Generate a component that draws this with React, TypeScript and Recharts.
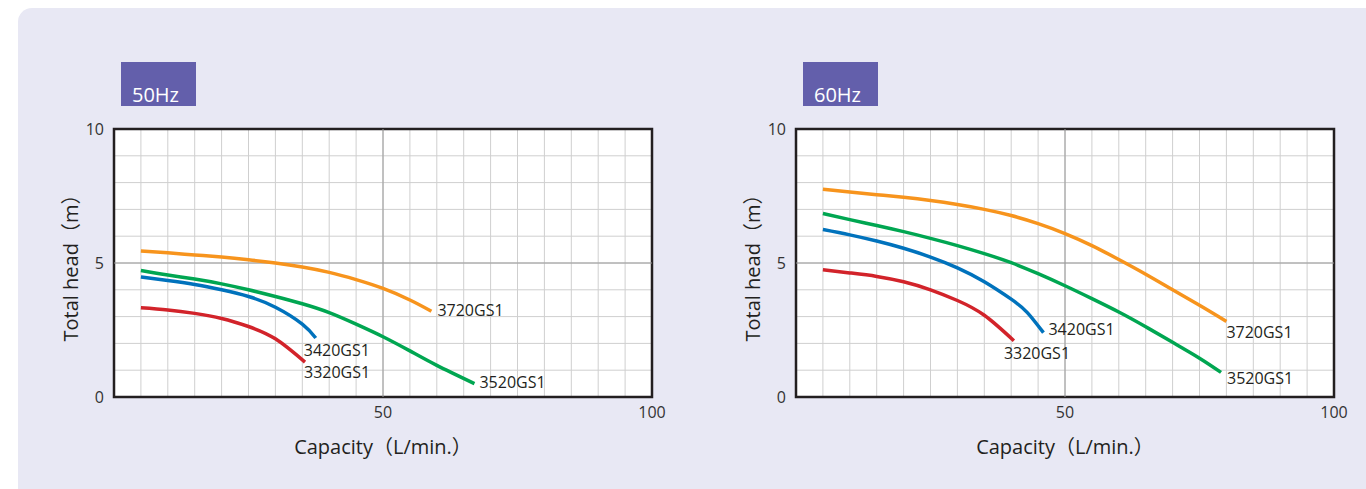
import { CartesianGrid, Label, Line, LineChart, ReferenceArea, ReferenceLine, XAxis, YAxis } from "recharts"

// capacity (L/min.) and total head (m)
const q50_3720 = [5, 10, 15, 20, 25, 30, 35, 40, 45, 50, 55, 59]
const h50_3720 = [5.45, 5.38, 5.3, 5.22, 5.12, 5.0, 4.85, 4.65, 4.38, 4.05, 3.62, 3.2]
const q50_3520 = [5, 10, 15, 20, 25, 30, 35, 40, 45, 50, 55, 60, 67]
const h50_3520 = [4.72, 4.55, 4.4, 4.22, 4.0, 3.75, 3.48, 3.15, 2.72, 2.25, 1.72, 1.18, 0.5]
const q50_3420 = [5, 10, 15, 20, 25, 30, 35, 37.5]
const h50_3420 = [4.48, 4.35, 4.2, 4.0, 3.75, 3.35, 2.72, 2.2]
const q50_3320 = [5, 10, 15, 20, 25, 30, 35.5]
const h50_3320 = [3.33, 3.25, 3.12, 2.93, 2.63, 2.17, 1.3]

const q60_3720 = [5, 10, 15, 20, 25, 30, 35, 40, 45, 50, 55, 60, 65, 70, 75, 80]
const h60_3720 = [7.75, 7.65, 7.55, 7.45, 7.33, 7.18, 7.0, 6.77, 6.47, 6.1, 5.65, 5.13, 4.58, 4.0, 3.42, 2.82]
const q60_3520 = [5, 10, 15, 20, 25, 30, 35, 40, 45, 50, 55, 60, 65, 70, 75, 79]
const h60_3520 = [6.85, 6.62, 6.4, 6.17, 5.92, 5.65, 5.35, 5.01, 4.6, 4.15, 3.67, 3.17, 2.62, 2.04, 1.45, 0.92]
const q60_3420 = [5, 10, 15, 20, 25, 30, 35, 40, 43, 46]
const h60_3420 = [6.25, 6.05, 5.82, 5.55, 5.22, 4.82, 4.3, 3.65, 3.15, 2.4]
const q60_3320 = [5, 10, 15, 20, 25, 30, 35, 40.5]
const h60_3320 = [4.75, 4.63, 4.5, 4.3, 4.0, 3.6, 3.05, 2.1]

const capacityTicks = [0, 5, 10, 15, 20, 25, 30, 35, 40, 45, 50, 55, 60, 65, 70, 75, 80, 85, 90, 95, 100]
const headTicks = [0, 1, 2, 3, 4, 5, 6, 7, 8, 9, 10]

const zip = (q: number[], h: number[]) => q.map((v, i) => ({ q: v, h: h[i] }))

interface Curve {
  name: string
  color: string
  data: { q: number; h: number }[]
  dx: number
  dy: number
}

const curves50: Curve[] = [
  { name: "3720GS1", color: "#f7941d", data: zip(q50_3720, h50_3720), dx: 6, dy: 5 },
  { name: "3520GS1", color: "#00a651", data: zip(q50_3520, h50_3520), dx: 5, dy: 4 },
  { name: "3420GS1", color: "#0072bc", data: zip(q50_3420, h50_3420), dx: -12, dy: 18 },
  { name: "3320GS1", color: "#d2232a", data: zip(q50_3320, h50_3320), dx: -1, dy: 16 },
]

const curves60: Curve[] = [
  { name: "3720GS1", color: "#f7941d", data: zip(q60_3720, h60_3720), dx: 0, dy: 17 },
  { name: "3520GS1", color: "#00a651", data: zip(q60_3520, h60_3520), dx: 6, dy: 12 },
  { name: "3420GS1", color: "#0072bc", data: zip(q60_3420, h60_3420), dx: 5, dy: 2 },
  { name: "3320GS1", color: "#d2232a", data: zip(q60_3320, h60_3320), dx: -10, dy: 18 },
]

const font = "'Open Sans', 'Noto Sans CJK JP', sans-serif"

function PumpChart({ curves, left, plotLeft, title }: { curves: Curve[]; left: number; plotLeft: number; title: string }) {
  return (
    <div style={{ position: "absolute", left, top: 0, width: 683, height: 489 }}>
      <div
        style={{
          position: "absolute",
          left: plotLeft + 7,
          top: 62,
          width: 75,
          height: 44,
          background: "#635fab",
          color: "#fff",
          fontFamily: font,
          fontSize: 20,
          lineHeight: 1,
        }}
      >
        <span style={{ position: "absolute", left: 11, top: 23 }}>{title}</span>
      </div>
      <LineChart width={683} height={489} margin={{ top: 129, right: 683 - plotLeft - 538, bottom: 30, left: plotLeft - 86 }}>
        <CartesianGrid stroke="#cfcfcf" fill="#fff" />
        <XAxis
          type="number"
          dataKey="q"
          domain={[0, 100]}
          ticks={capacityTicks}
          interval={0}
          tickFormatter={(v) => (v === 50 || v === 100 ? String(v) : "")}
          axisLine={false}
          tickLine={false}
          tickSize={0}
          tickMargin={10}
          height={62}
          tick={{ fill: "#333", fontSize: 16, fontFamily: font }}
        >
          <Label value="Capacity（L/min.）" position="insideBottom" offset={5} fill="#231f20" fontSize={20} fontFamily={font} />
        </XAxis>
        <YAxis
          type="number"
          domain={[0, 10]}
          ticks={headTicks}
          interval={0}
          tickFormatter={(v) => (v % 5 === 0 ? String(v) : "")}
          axisLine={false}
          tickLine={false}
          tickSize={0}
          tickMargin={10}
          width={86}
          tick={{ fill: "#333", fontSize: 16, fontFamily: font }}
        >
          <Label value="Total head（m）" angle={-90} position="center" fill="#231f20" fontSize={20} fontFamily={font} />
        </YAxis>
        <ReferenceLine x={50} stroke="#9a9a9a" />
        <ReferenceLine y={5} stroke="#9a9a9a" />
        <ReferenceArea x1={0} x2={100} y1={0} y2={10} fill="none" fillOpacity={0} stroke="#231f20" strokeWidth={2.5} />
        {curves.map((c) => (
          <Line
            key={c.name}
            data={c.data}
            dataKey="h"
            type="natural"
            stroke={c.color}
            strokeWidth={3.5}
            dot={false}
            isAnimationActive={false}
            label={(p: any) =>
              p.index === c.data.length - 1 ? (
                <text key={c.name} x={p.x + c.dx} y={p.y + c.dy} fill="#231f20" fontSize={16} fontFamily={font}>
                  {c.name}
                </text>
              ) : null
            }
          />
        ))}
      </LineChart>
    </div>
  )
}

export default function App() {
  return (
    <div style={{ position: "absolute", left: 0, top: 0, width: 1366, height: 489, background: "#fff", overflow: "hidden" }}>
      <div
        style={{
          position: "absolute",
          left: 18,
          top: 8,
          width: 1366,
          height: 500,
          background: "#e8e8f4",
          borderTopLeftRadius: 14,
        }}
      />
      <PumpChart curves={curves50} left={0} plotLeft={114} title="50Hz" />
      <PumpChart curves={curves60} left={683} plotLeft={113} title="60Hz" />
    </div>
  )
}
